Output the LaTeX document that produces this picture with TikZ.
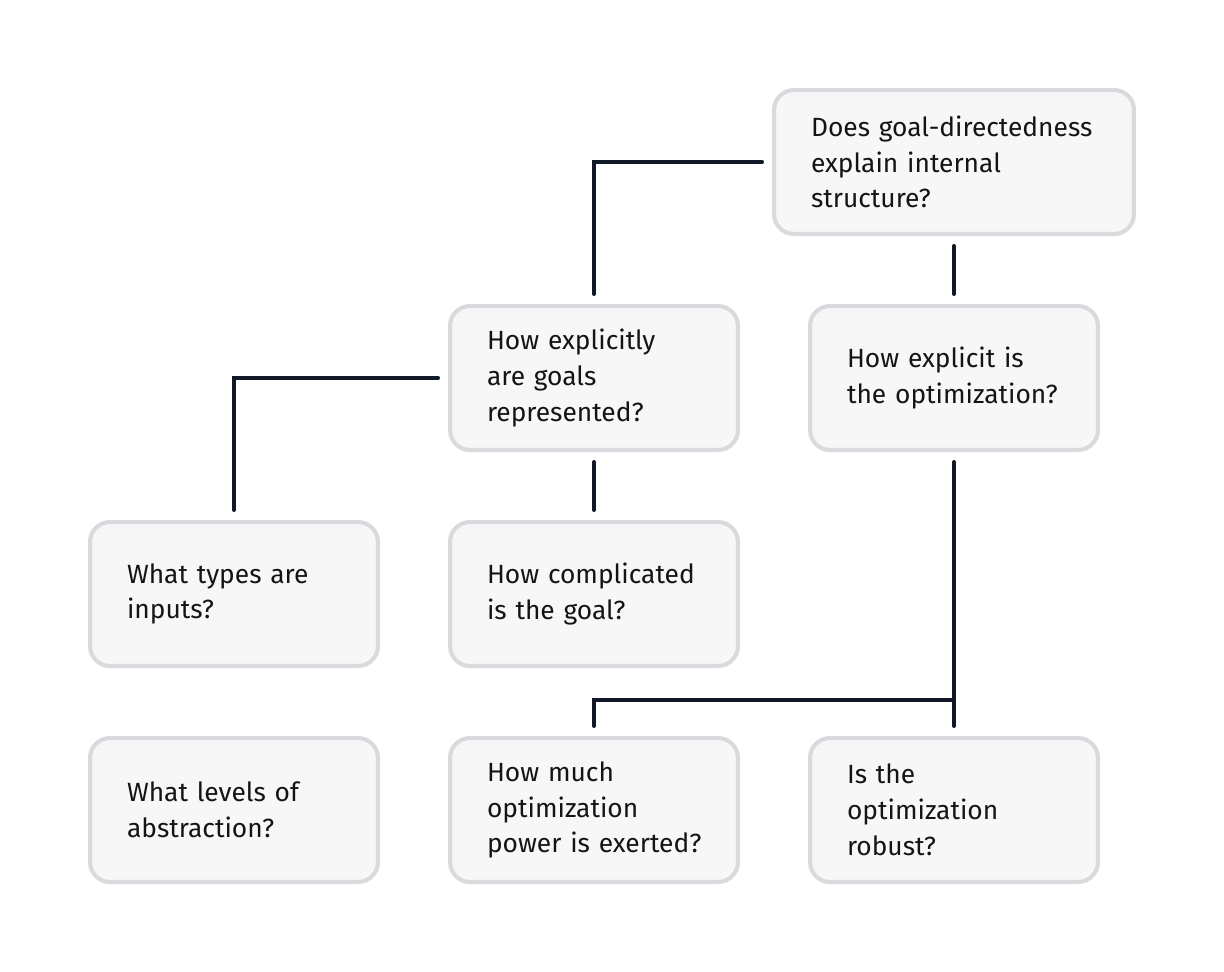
\documentclass[tikz,border=0pt]{standalone}
\usepackage{fontspec}
\setmainfont{Fira Sans}
\usepackage{tikz}
\usetikzlibrary{positioning,calc,shadows}
\definecolor{BoxFill}{HTML}{F7F7F7}
\definecolor{BoxEdge}{HTML}{D9D9DE}
\definecolor{LinkInk}{HTML}{111827}
\definecolor{TextInk}{HTML}{141414}

\begin{document}
\begin{tikzpicture}[
  x=0.02cm, y=-0.02cm,
  question/.style={draw=BoxEdge,fill=BoxFill,line width=0.08cm,rounded corners=0.4cm,
    minimum width=5.76cm,minimum height=2.88cm,inner xsep=0.74cm,inner ysep=0pt,
    text width=4.28cm,align=left,text=TextInk,
    font=\fontsize{15pt}{20.4pt}\selectfont,
    drop shadow={shadow xshift=0pt,shadow yshift=-1.5pt,opacity=0.06}},
  wide/.style={question,minimum width=7.2cm,text width=5.72cm},
  link/.style={draw=LinkInk,line width=0.08cm,line cap=round}
]
\useasboundingbox (0,0) rectangle (1224,972);

% top question
\node[wide] (root) at (954,162) {\mbox{Does goal-directedness}\\explain internal\\structure?};

% second row
\node[question] (explicitly) at (594,378) {How explicitly\\are goals\\represented?};
\node[question] (optim) at (954,378) {How explicit is\\\mbox{the optimization?}};

% third row
\node[question] (inputs) at (234,594) {What types are\\inputs?};
\node[question] (goal) at (594,594) {\mbox{How complicated}\\is the goal?};

% bottom row
\node[question] (levels) at (234,810) {What levels of\\abstraction?};
\node[question] (power) at (594,810) {How much\\optimization\\\mbox{power is exerted?}};
\node[question] (robust) at (954,810) {Is the\\optimization\\robust?};

% connectors
\draw[link] ($(root.west)+(-10,0)$) -| ($(explicitly.north)+(0,-10)$);
\draw[link] ($(root.south)+(0,10)$) -- ($(optim.north)+(0,-10)$);
\draw[link] ($(explicitly.west)+(-10,0)$) -| ($(inputs.north)+(0,-10)$);
\draw[link] ($(explicitly.south)+(0,10)$) -- ($(goal.north)+(0,-10)$);
\coordinate (split) at (954,700);
\draw[link] ($(optim.south)+(0,10)$) -- ($(robust.north)+(0,-10)$);
\draw[link] ($(power.north)+(0,-10)$) |- (split);

\end{tikzpicture}
\end{document}
